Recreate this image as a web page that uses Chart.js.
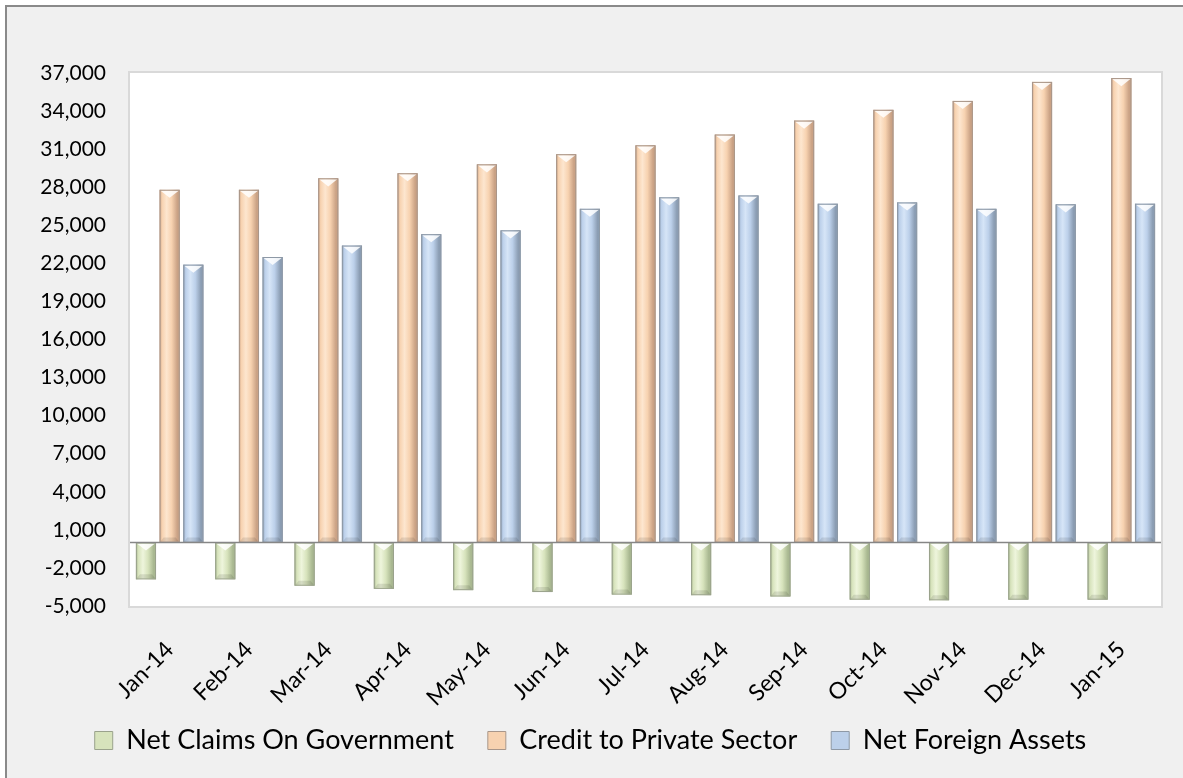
<!DOCTYPE html>
<html>
<head>
<meta charset="utf-8">
<script src="https://cdn.jsdelivr.net/npm/chart.js@4/dist/chart.umd.min.js"></script>
<style>
  html, body { margin: 0; padding: 0; background: #ffffff; }
  #frame {
    position: absolute; left: 5px; top: 5px; width: 1190px; height: 790px;
    background: #f0f0f0; border: 2px solid #8a8a8a; box-sizing: border-box;
  }
  #wrap { position: absolute; left: 0; top: 0; width: 1183px; height: 778px; }
</style>
</head>
<body>
<div id="frame"></div>
<div id="wrap"><canvas id="chart" width="1183" height="778"></canvas></div>
<script>
// ================= DATA =================
const months = ["Jan-14", "Feb-14", "Mar-14", "Apr-14", "May-14", "Jun-14", "Jul-14",
  "Aug-14", "Sep-14", "Oct-14", "Nov-14", "Dec-14", "Jan-15"];
const netClaimsGov = [-2900, -2900, -3400, -3650, -3750, -3900, -4100,
  -4150, -4250, -4500, -4550, -4500, -4500];
const creditPrivate = [27800, 27800, 28700, 29100, 29800, 30600, 31300,
  32150, 33250, 34100, 34800, 36300, 36600];
const netForeign = [21900, 22500, 23400, 24300, 24600, 26300, 27200,
  27350, 26700, 26800, 26300, 26650, 26700];

// ================= COLOURS =================
const FONT = "Lato";
const palette = [
  { base: "#d7e3bc", light: "#eef5dc", dark: "#a9b891", line: "#9aa28c" },
  { base: "#f7d2b0", light: "#fde6cf", dark: "#caa285", line: "#a8968a" },
  { base: "#bcd0ea", light: "#d6e5f7", dark: "#8b9db3", line: "#8e99a6" }
];

// ================= PLUGINS =================
const plotBg = {
  id: "plotBg",
  beforeDraw(chart) {
    const { ctx, chartArea: a } = chart;
    ctx.save();
    ctx.fillStyle = "#ffffff";
    ctx.fillRect(a.left, a.top, a.right - a.left, a.bottom - a.top);
    ctx.strokeStyle = "#d9d9d9";
    ctx.lineWidth = 2;
    ctx.strokeRect(a.left - 1, a.top - 1, a.right - a.left + 2, a.bottom - a.top + 2);
    ctx.restore();
  }
};

// bevel look on top of plain bars
const bevel = {
  id: "bevel",
  afterDatasetsDraw(chart) {
    const ctx = chart.ctx;
    chart.data.datasets.forEach((ds, i) => {
      const meta = chart.getDatasetMeta(i);
      const c = palette[i];
      meta.data.forEach(bar => {
        const p = bar.getProps(["x", "y", "base", "width"], true);
        const left = p.x - p.width / 2, right = p.x + p.width / 2;
        const top = Math.min(p.y, p.base), bottom = Math.max(p.y, p.base);
        const w = right - left, h = bottom - top;
        ctx.save();
        const g = ctx.createLinearGradient(left, 0, right, 0);
        g.addColorStop(0, c.dark);
        g.addColorStop(0.12, c.base);
        g.addColorStop(0.35, c.light);
        g.addColorStop(0.6, c.base);
        g.addColorStop(0.88, c.dark);
        g.addColorStop(1, c.dark);
        ctx.fillStyle = g;
        ctx.fillRect(left, top, w, h);
        // top facet
        const th = Math.min(w * 0.4, h);
        ctx.beginPath();
        ctx.moveTo(left + 1, top + 1);
        ctx.lineTo(right - 1, top + 1);
        ctx.lineTo(p.x, top + th);
        ctx.closePath();
        ctx.fillStyle = "rgba(255,255,255,0.85)";
        ctx.fill();
        // bottom facet, darker
        if (h > th * 2) {
          ctx.beginPath();
          ctx.moveTo(left + 1, bottom - 1);
          ctx.lineTo(right - 1, bottom - 1);
          ctx.lineTo(right - 4, bottom - 5);
          ctx.lineTo(left + 4, bottom - 5);
          ctx.closePath();
          ctx.fillStyle = "rgba(0,0,0,0.10)";
          ctx.fill();
        }
        ctx.strokeStyle = c.line;
        ctx.lineWidth = 1;
        ctx.strokeRect(left + 0.5, top + 0.5, w - 1, h - 1);
        ctx.restore();
      });
    });
    // zero line
    const y0 = chart.scales.y.getPixelForValue(0);
    const a = chart.chartArea;
    ctx.save();
    ctx.strokeStyle = "#868686";
    ctx.lineWidth = 1.5;
    ctx.beginPath();
    ctx.moveTo(a.left, y0);
    ctx.lineTo(a.right, y0);
    ctx.stroke();
    ctx.restore();
  }
};

// ================= CHART =================
new Chart(document.getElementById("chart"), {
  type: "bar",
  data: {
    labels: months,
    datasets: [
      { label: "Net Claims On Government", data: netClaimsGov },
      { label: "Credit to Private Sector", data: creditPrivate },
      { label: "Net Foreign Assets", data: netForeign }
    ].map((d, i) => ({
      ...d,
      backgroundColor: palette[i].base,
      borderColor: palette[i].line,
      borderWidth: 1,
      categoryPercentage: 0.896,
      barPercentage: 0.85
    }))
  },
  options: {
    responsive: false,
    animation: false,
    layout: { padding: { top: 73, left: 20, right: 22, bottom: 14 } },
    plugins: {
      tooltip: { enabled: false },
      legend: {
        position: "bottom",
        labels: {
          color: "#000",
          font: { family: FONT, size: 27 },
          boxWidth: 18,
          boxHeight: 18,
          padding: 34
        }
      }
    },
    scales: {
      x: {
        grid: { display: false, drawTicks: false },
        border: { display: false },
        ticks: {
          color: "#000",
          font: { family: FONT, size: 23 },
          minRotation: 45,
          maxRotation: 45,
          padding: 30
        },
        afterFit(s) {
          s.height = 87;
          // rotated labels run past the box, don't clip them
          s._computeLabelArea = () => null;
        }
      },
      y: {
        min: -5000,
        max: 37000,
        grid: { display: false, drawTicks: false },
        border: { display: false },
        ticks: {
          stepSize: 3000,
          color: "#000",
          font: { family: FONT, size: 21 },
          padding: 24,
          callback: v => v.toLocaleString("en-US")
        },
        afterFit(s) { s.width = 110; }
      }
    }
  },
  plugins: [plotBg, bevel]
});
</script>
</body>
</html>
